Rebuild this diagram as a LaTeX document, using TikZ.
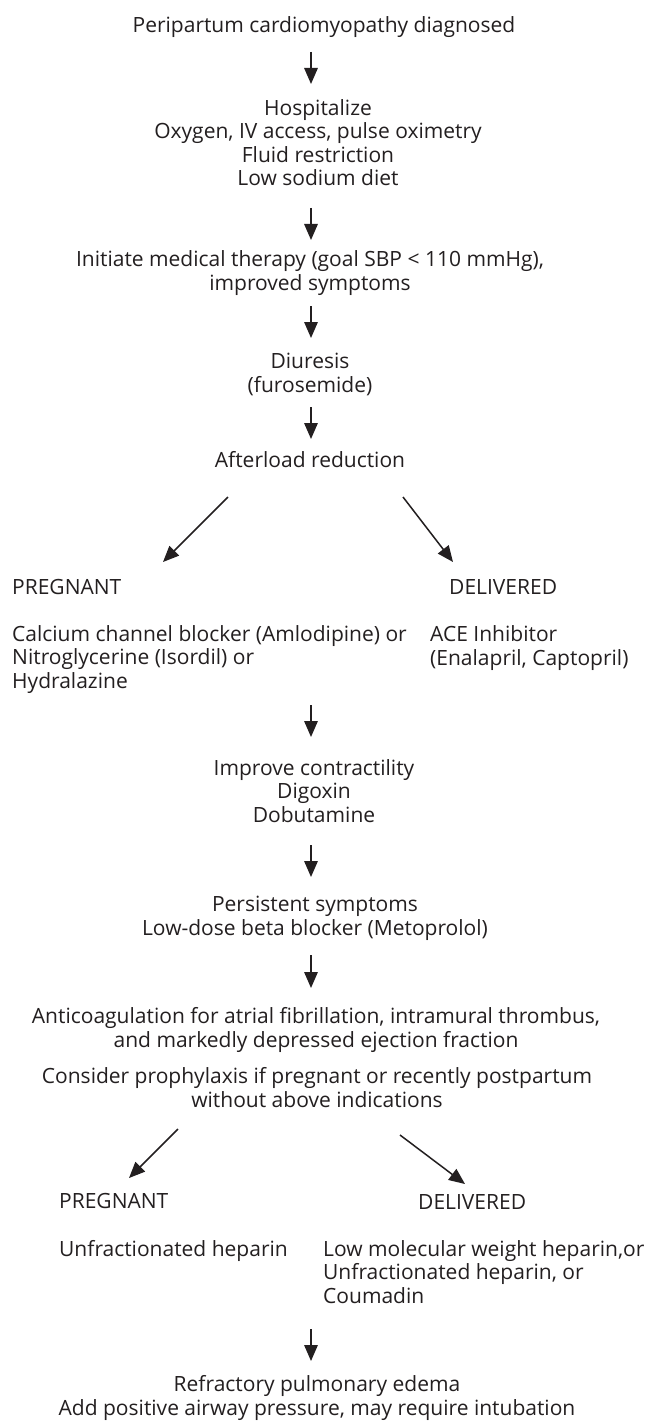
\documentclass[tikz,border=0pt]{standalone}
\usepackage{fontspec}
\setmainfont{Open Sans}
\usetikzlibrary{arrows.meta}
\definecolor{ink}{HTML}{231F20}
\begin{document}
\begin{tikzpicture}[x=1pt,y=-1pt,
  txt/.style={inner sep=0pt, text=ink, align=center, anchor=base,
    font={\fontsize{21pt}{23.5pt}\selectfont}},
  ltxt/.style={txt, align=left, anchor=base west},
  arr/.style={draw=ink, line width=1.5pt,
    -{Triangle[width=13.5pt,length=16pt]}}]
\useasboundingbox (0,0) rectangle (658,1423);
\fill[white] (0,0) rectangle (658,1423);

% multi-line nodes are placed by the baseline of their last line
\node[txt] (title) at (324,33) {Peripartum cardiomyopathy diagnosed};
\node[txt] (hosp) at (318,186) {Hospitalize\\Oxygen, IV access, pulse oximetry\\Fluid restriction\\Low sodium diet};
\node[txt] (init) at (310,290) {Initiate medical therapy (goal SBP < 110 mmHg),\\improved symptoms};
\node[txt] (diur) at (310,392) {Diuresis\\(furosemide)};
\node[txt] (after) at (310,467) {Afterload reduction};
\node[ltxt] (preg1) at (12,594) {PREGNANT};
\node[ltxt] (deliv1) at (449,594) {DELIVERED};
\node[ltxt] (ccb) at (12,688) {Calcium channel blocker (Amlodipine) or\\Nitroglycerine (Isordil) or\\Hydralazine};
\node[ltxt] (ace) at (430,665) {ACE Inhibitor\\(Enalapril, Captopril)};
\node[txt] (contr) at (314,822) {Improve contractility\\Digoxin\\Dobutamine};
\node[txt] (persist) at (315,935) {Persistent symptoms\\Low-dose beta blocker (Metoprolol)};
\node[txt] (anticoag) at (316,1047) {Anticoagulation for atrial fibrillation, intramural thrombus,\\and markedly depressed ejection fraction};
\node[txt] (consider) at (317,1107) {Consider prophylaxis if pregnant or recently postpartum\\without above indications};
\node[ltxt] (preg2) at (59,1208) {PREGNANT};
\node[ltxt] (deliv2) at (418,1209) {DELIVERED};
\node[ltxt] (ufh) at (59,1256) {Unfractionated heparin};
\node[ltxt] (lmwh) at (323,1303) {Low molecular weight heparin,or\\Unfractionated heparin, or\\Coumadin};
\node[txt] (refr) at (317,1415) {Refractory pulmonary edema\\Add positive airway pressure, may require intubation};

\coordinate (a1s) at (311,52);   \coordinate (a1e) at (311,84);
\coordinate (a2s) at (311,208);  \coordinate (a2e) at (311,240);
\coordinate (a3s) at (311,306);  \coordinate (a3e) at (311,338);
\coordinate (a4s) at (311,407);  \coordinate (a4e) at (311,439);
\coordinate (d1s) at (228,497);  \coordinate (d1e) at (163,562);
\coordinate (d2s) at (403,497);  \coordinate (d2e) at (453,562);
\coordinate (a5s) at (311,705);  \coordinate (a5e) at (311,737);
\coordinate (a6s) at (311,845);  \coordinate (a6e) at (311,877);
\coordinate (a7s) at (311,955);  \coordinate (a7e) at (311,988);
\coordinate (d3s) at (178,1129); \coordinate (d3e) at (129,1178);
\coordinate (d4s) at (400,1135); \coordinate (d4e) at (465,1184);
\coordinate (a8s) at (311,1329); \coordinate (a8e) at (311,1361);

\foreach \a in {a1,a2,a3,a4,d1,d2,a5,a6,a7,d3,d4,a8}
  \draw[arr] (\a s) -- (\a e);
\end{tikzpicture}
\end{document}
